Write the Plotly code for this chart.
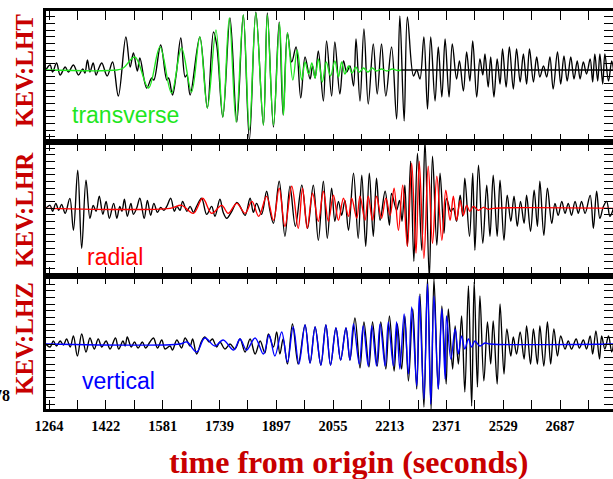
import plotly.graph_objects as go
from plotly.subplots import make_subplots

# Station KEV long-period records (black) and synthetic seismograms (colour).
# Each series is a list of (time from origin in s, amplitude) turning points.

lht_obs = [
    (1255, 0), (1267, 5), (1274, -2), (1285, 7), (1295, -5), (1309, 3), (1318, -2),
    (1332, 5), (1346, -5), (1358, 1), (1364, -3), (1371, 10), (1378, -2), (1387, 7),
    (1395, -5), (1403, 2), (1411, 7), (1426, -6), (1441, 8), (1457, -26), (1478, 33),
    (1490, 3), (1499, 17), (1510, -1), (1517, 12), (1536, -18), (1550, -8), (1556, -10),
    (1575, 25), (1592, -10), (1597, -8), (1608, -25), (1618, -5), (1631, 32), (1643, -7),
    (1648, -5), (1657, -25), (1684, 33), (1705, -38), (1722, 38), (1731, 25), (1748, -47),
    (1768, 52), (1787, -52), (1805, 55), (1822, -70), (1840, 58), (1861, -55), (1872, 57),
    (1889, -57), (1905, 48), (1916, -45), (1928, 37), (1940, 8), (1952, 23), (1965, -28),
    (1977, 13), (1991, -9), (1998, 4), (2005, -8), (2014, 19), (2028, -31), (2037, 29),
    (2051, -26), (2060, 28), (2074, -24), (2084, 9), (2093, -2), (2102, 4), (2112, -16),
    (2119, 31), (2130, -31), (2141, 41), (2153, -34), (2167, 26), (2178, -24), (2190, 26),
    (2202, -26), (2218, 23), (2232, -49), (2241, 54), (2253, -51), (2262, 53), (2279, -6),
    (2288, 0), (2297, -9), (2308, 33), (2318, -39), (2327, 33), (2339, -31), (2348, 23),
    (2358, -27), (2367, 31), (2378, -27), (2387, 26), (2399, -9), (2407, 9), (2418, -21),
    (2427, 18), (2436, -11), (2444, 29), (2455, -27), (2464, 11), (2472, -5), (2478, 16),
    (2487, -17), (2494, 13), (2503, -27), (2512, 11), (2520, -14), (2527, 21), (2537, -17),
    (2546, 23), (2557, -19), (2566, 21), (2576, -12), (2585, 16), (2594, -14), (2602, 21),
    (2613, -12), (2622, 13), (2631, -7), (2641, 4), (2650, -7), (2659, 13), (2668, -19),
    (2680, 18), (2689, -14), (2698, 14), (2707, -11), (2717, 13), (2726, -9), (2735, 9),
    (2743, -9), (2752, 8), (2761, -4), (2771, 11), (2778, -12), (2784, 16), (2792, -11),
    (2798, 16), (2806, -14), (2812, 16), (2822, -11), (2831, 9), (2836, 0),
]

lht_syn = [
    (1255, 0), (1453, 0), (1471, 2), (1503, 13), (1541, -18), (1573, 23), (1605, -23),
    (1633, 22), (1661, -22), (1684, 33), (1705, -38), (1729, 40), (1748, -47), (1766, 52),
    (1785, -52), (1805, 55), (1822, -60), (1840, 57), (1861, -55), (1872, 55), (1889, -55),
    (1906, 47), (1917, -45), (1928, 37), (1943, -10), (1955, 20), (1968, -10), (1977, 8),
    (1987, -4), (1996, 7), (2005, -8), (2014, 11), (2025, -12), (2036, 8), (2048, -6),
    (2060, 9), (2070, -7), (2079, 8), (2088, -4), (2098, 4), (2108, -3), (2118, 3),
    (2128, -2), (2140, 2), (2152, -2), (2164, 2), (2176, -1), (2190, 1), (2205, -1),
    (2220, 1), (2235, -0.5), (2245, 0),
]

# zero-padded tail of the transverse synthetic
lht_tail = [(2245, 0), (2836, 0)]

lhr_obs = [
    (1255, 0), (1267, 3), (1274, -3), (1283, 5), (1291, -2), (1299, 4), (1309, -5),
    (1322, 10), (1332, -22), (1344, 38), (1355, -40), (1367, 28), (1378, -10), (1387, 3),
    (1395, -3), (1404, 12), (1414, -6), (1423, 7), (1432, -10), (1444, 5), (1453, -10),
    (1461, 2), (1467, -3), (1474, 9), (1482, -8), (1492, 5), (1499, -6), (1508, 0),
    (1517, 10), (1529, -10), (1538, 8), (1547, -7), (1556, 5), (1566, -4), (1575, 1),
    (1584, -2), (1592, 2), (1603, 10), (1613, -3), (1620, 2), (1629, -2), (1636, 7),
    (1648, -3), (1657, 2), (1666, -4), (1675, 2), (1689, 10), (1703, -6), (1717, 2),
    (1726, -8), (1740, 9), (1749, -4), (1759, -10), (1773, -3), (1787, 6), (1796, 2),
    (1810, -7), (1824, 10), (1833, -4), (1842, 5), (1856, -6), (1870, 17), (1879, -2),
    (1889, -15), (1905, 27), (1921, -28), (1935, 22), (1950, -18), (1968, 23), (1984, -20),
    (2000, 23), (2014, -32), (2028, 27), (2039, -30), (2051, 20), (2060, -13), (2070, 7),
    (2079, -7), (2088, 8), (2098, -22), (2112, 35), (2125, -30), (2135, 33), (2146, -38),
    (2156, 35), (2167, -28), (2176, 30), (2186, -12), (2200, 17), (2212, -17), (2218, 15),
    (2232, -2), (2240, 8), (2247, -13), (2255, 23), (2262, -38), (2271, 47), (2280, -53),
    (2290, 55), (2302, -42), (2311, 68), (2323, -70), (2332, 52), (2344, -37), (2353, 35),
    (2364, -25), (2371, 10), (2383, -3), (2390, 0), (2399, -13), (2409, 13), (2416, -8),
    (2422, 30), (2435, -28), (2444, 35), (2450, -42), (2460, 43), (2472, -35), (2483, 23),
    (2492, -28), (2501, 33), (2512, -28), (2520, 28), (2531, -32), (2540, 13), (2550, -13),
    (2559, 12), (2568, -18), (2577, 7), (2587, -15), (2594, 13), (2605, -23), (2615, 18),
    (2624, -18), (2631, 27), (2642, -27), (2652, 20), (2664, -15), (2673, 5), (2682, -7),
    (2692, 7), (2701, -5), (2710, 5), (2719, -7), (2729, 7), (2738, -5), (2747, 7),
    (2757, -5), (2771, 13), (2780, -20), (2789, 17), (2798, -10), (2808, 2), (2817, 7),
    (2826, -8), (2836, 0),
]

lhr_syn = [
    (1255, 0), (1601, 0), (1633, 3), (1666, -5), (1692, 10), (1717, -5), (1745, 3),
    (1763, -5), (1787, 5), (1810, -5), (1829, 7), (1848, -8), (1870, 12), (1889, -12),
    (1905, 20), (1921, -18), (1940, 22), (1958, -20), (1970, 20), (1983, -20), (1998, 15),
    (2014, -13), (2028, 17), (2042, -13), (2056, 13), (2070, -12), (2084, 10), (2098, -8),
    (2107, 10), (2121, -10), (2130, 12), (2144, -12), (2153, 12), (2165, -12), (2176, 12),
    (2190, -10), (2202, 10), (2214, -7), (2225, 20), (2237, -22), (2249, 23), (2262, -38),
    (2274, 45), (2286, -45), (2295, 47), (2308, -50), (2320, 42), (2332, -35), (2344, 32),
    (2358, -32), (2369, 18), (2381, -12), (2390, 12), (2399, -12), (2409, 8), (2418, -7),
    (2427, 3), (2436, -3), (2446, 2), (2460, -2), (2474, 1), (2487, -1), (2501, 0),
    (2836, 0),
]

lhz_obs = [
    (1255, 0), (1267, -3), (1276, 3), (1285, -2), (1295, 3), (1304, -1), (1313, 5),
    (1323, -3), (1332, 8), (1343, -12), (1355, 10), (1367, -8), (1378, 6), (1390, -5),
    (1401, 5), (1411, -3), (1423, 3), (1434, -5), (1449, 6), (1458, -5), (1470, 3),
    (1476, -2), (1482, 7), (1493, -3), (1502, 2), (1512, -4), (1524, 2), (1533, -4),
    (1545, 2), (1555, 6), (1566, -4), (1578, 4), (1587, -5), (1601, -2), (1608, -6),
    (1620, 4), (1633, -4), (1643, 6), (1657, -2), (1664, 5), (1675, -10), (1689, 3),
    (1698, 7), (1710, 2), (1719, 5), (1731, -3), (1740, 2), (1754, -5), (1768, 0),
    (1782, -5), (1796, 5), (1810, -8), (1824, 5), (1838, -10), (1852, 3), (1865, -9),
    (1875, 10), (1889, -3), (1898, 12), (1907, -10), (1916, 5), (1928, -20), (1942, 20),
    (1958, -20), (1977, 19), (1991, -19), (2005, 17), (2021, -21), (2035, 19), (2048, -21),
    (2063, 16), (2076, -16), (2091, 16), (2102, -16), (2116, 26), (2130, -24), (2141, 22),
    (2155, -23), (2165, 22), (2178, -22), (2188, 22), (2202, -25), (2212, 28), (2225, -27),
    (2234, 20), (2246, -25), (2255, 28), (2265, -37), (2277, 35), (2288, -45), (2297, 50),
    (2308, -63), (2318, 65), (2328, -65), (2336, 65), (2348, -45), (2358, 38), (2370, -40),
    (2376, 35), (2388, -25), (2395, 18), (2404, -20), (2413, 28), (2422, -48), (2432, 58),
    (2441, -62), (2448, 62), (2457, -43), (2464, 48), (2475, -37), (2485, 22), (2494, -20),
    (2501, 23), (2512, -40), (2520, 40), (2531, -30), (2539, 15), (2550, -12), (2557, 7),
    (2566, -10), (2576, 12), (2587, -15), (2594, 18), (2605, -20), (2613, 15), (2624, -20),
    (2631, 18), (2642, -22), (2652, 22), (2661, -20), (2670, 15), (2680, -12), (2689, 8),
    (2701, -5), (2710, 3), (2719, -5), (2732, 5), (2741, -4), (2752, 4), (2761, -5),
    (2771, 8), (2778, -10), (2787, 13), (2797, -15), (2803, 8), (2812, -5), (2822, 8),
    (2831, -8), (2836, 0),
]

lhz_syn = [
    (1255, 0), (1629, 0), (1648, 2), (1675, -8), (1698, 6), (1726, -2), (1749, 4),
    (1778, -6), (1796, 5), (1814, -6), (1838, 6), (1861, -10), (1877, 9), (1893, -12),
    (1912, 12), (1928, -18), (1944, 17), (1960, -20), (1977, 19), (1991, -19), (2005, 17),
    (2021, -21), (2035, 19), (2048, -21), (2063, 16), (2076, -16), (2091, 16), (2102, -16),
    (2112, 20), (2128, -20), (2139, 18), (2153, -22), (2163, 18), (2176, -22), (2186, 20),
    (2200, -22), (2209, 22), (2223, -22), (2232, 22), (2241, -25), (2253, 30), (2265, -30),
    (2274, 37), (2288, -42), (2295, 48), (2308, -55), (2318, 60), (2327, -60), (2336, 48),
    (2348, -45), (2358, 35), (2367, -35), (2371, 28), (2383, -15), (2395, 15), (2404, -10),
    (2413, 8), (2422, -5), (2432, 5), (2441, -3), (2450, 3), (2464, -2), (2478, 1),
    (2492, 0), (2836, 0),
]

channels = ["KEV:LHT", "KEV:LHR", "KEV:LHZ"]
components = ["transverse", "radial", "vertical"]
tick_labels = [1264, 1422, 1581, 1739, 1897, 2055, 2213, 2371, 2529, 2687]

# ---- styling ----
OBS_COLOR = "black"
SYN_COLORS = ["#1ee61e", "#ff0000", "#0000ff"]
LABEL_RED = "#c80000"
SERIF = "Liberation Serif"
SANS = "Liberation Sans"

x_range = [1255.6, 2834.6]
y_ranges = [[-72.5, 59], [-67.2, 65.8], [-65, 68.5]]

fig = make_subplots(
    rows=3, cols=1, shared_xaxes=True, vertical_spacing=0,
    row_heights=[0.3304, 0.3342, 0.3354],
    specs=[[{"secondary_y": True}]] * 3,
)


def unzip(pairs):
    t, a = zip(*pairs)
    return list(t), list(a)


def line(pairs, color, width=1.35, spline=True):
    t, a = unzip(pairs)
    return go.Scatter(
        x=t, y=a, mode="lines", showlegend=False, hoverinfo="skip",
        line=dict(color=color, width=width, shape="spline" if spline else "linear"),
    )


panels = [(lht_obs, lht_syn), (lhr_obs, lhr_syn), (lhz_obs, lhz_syn)]
for i, (obs, syn) in enumerate(panels):
    row = i + 1
    fig.add_trace(line(obs, OBS_COLOR), row=row, col=1, secondary_y=False)
    fig.add_trace(line(syn, SYN_COLORS[i]), row=row, col=1, secondary_y=True)
    if i == 0:
        fig.add_trace(line(lht_tail, OBS_COLOR, width=1.6, spline=False),
                      row=row, col=1, secondary_y=True)

    common_y = dict(range=y_ranges[i], tick0=0, dtick=20 / 3, ticks="inside",
                    ticklen=9, tickwidth=1, tickcolor="black",
                    showticklabels=False, showgrid=False, zeroline=False)
    fig.update_yaxes(showline=True, linewidth=2.5, linecolor="black",
                     row=row, col=1, secondary_y=False, **common_y)
    fig.update_yaxes(showline=False, row=row, col=1, secondary_y=True, **common_y)

# x ticks: labelled every ~158 s, unlabelled halfway between
tick_vals, tick_text = [], []
for k, v in enumerate(tick_labels):
    tick_vals.append(v)
    tick_text.append(str(v))
    nxt = tick_labels[k + 1] if k + 1 < len(tick_labels) else v + (v - tick_labels[k - 1])
    tick_vals.append((v + nxt) / 2)
    tick_text.append("")

fig.update_xaxes(
    domain=[0, 1],
    range=x_range, showline=True, linewidth=2.5, linecolor="black", mirror="ticks",
    ticks="inside", ticklen=9, tickwidth=1, tickcolor="black",
    tickvals=tick_vals, ticktext=tick_text, showgrid=False, zeroline=False,
    ticklabelstandoff=2,
    tickfont=dict(family=SERIF, size=14.5, color="black", weight="bold"),
)

# paper-space placement helpers (plot area: x 46..613 px, y 11..409 px)
def px(xp):
    return (xp - 46) / 567


def py(yp):
    return 1 - (yp - 11) / 398


annotations = []
for name, yc in zip(channels, [71, 210, 339]):
    annotations.append(dict(
        text=name, x=px(24), y=py(yc), xref="paper", yref="paper",
        xanchor="center", yanchor="middle", textangle=-90, showarrow=False,
        font=dict(family=SERIF, size=25, color=LABEL_RED, weight="bold"),
    ))

for name, color, (xl, yc) in zip(components, SYN_COLORS, [(70, 115), (85, 257), (80, 381)]):
    annotations.append(dict(
        text=name, x=px(xl), y=py(yc), xref="paper", yref="paper",
        xanchor="left", yanchor="middle", showarrow=False,
        font=dict(family=SANS, size=23, color=color),
    ))

annotations.append(dict(
    text="time from origin (seconds)", x=px(348), y=py(462), xref="paper", yref="paper",
    xanchor="center", yanchor="middle", showarrow=False,
    font=dict(family=SERIF, size=32, color=LABEL_RED, weight="bold"),
))
annotations.append(dict(
    text="78", x=px(12), y=py(395), xref="paper", yref="paper",
    xanchor="right", yanchor="middle", showarrow=False,
    font=dict(family=SERIF, size=16, color="black", weight="bold"),
))

fig.update_layout(
    width=613, height=479,
    margin=dict(l=46, r=0, t=11, b=70),
    paper_bgcolor="white", plot_bgcolor="white",
    annotations=annotations,
    showlegend=False,
)

fig.write_html("out.html")
